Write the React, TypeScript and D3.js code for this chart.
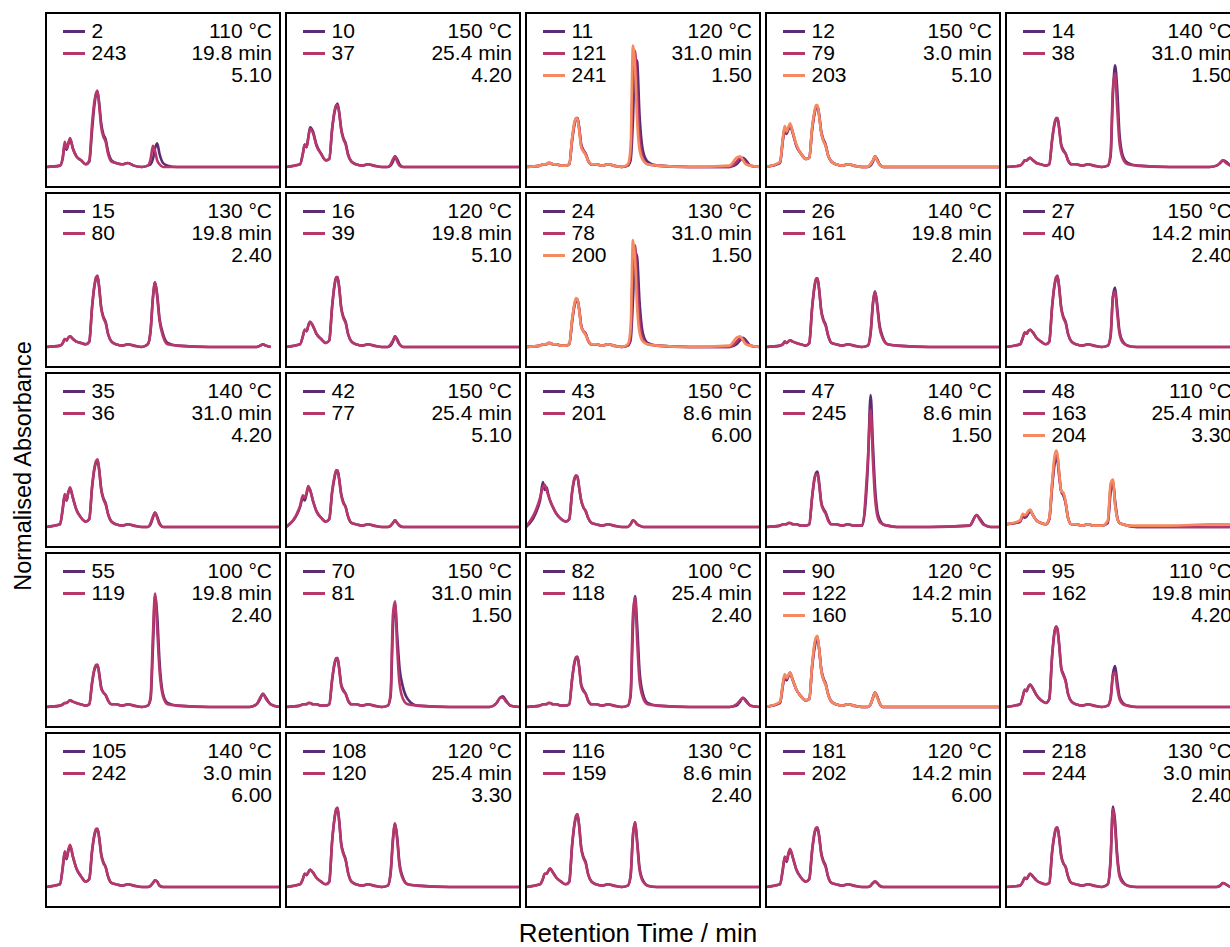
import * as d3 from 'd3';
import React from 'react';

// retention time grid (min), shared by every trace
const TIMES = [0, 0.6, 0.72, 0.8, 0.88, 0.95, 1.03, 1.15, 1.3, 1.5, 1.7,
  1.85, 1.97, 2.07, 2.14, 2.2, 2.27, 2.36, 2.45, 2.55, 2.65, 2.8,
  3.0, 3.25, 3.5, 3.75, 4.1, 4.35, 4.47, 4.57, 4.66, 4.75, 4.85,
  5.0, 5.2, 5.6, 7.0, 8.7, 9.0, 9.15, 9.27, 9.4, 9.6, 10];

const Z11 = [0, 0, 0, 0, 0, 0, 0, 0, 0, 0, 0];

// normalised absorbance of each run
const r2 = [0, .01, .07, .17, .13, .17, .21, .14, .08, .05, .02, .04, .28, .47, .55, .57, .49, .33, .25, .21, .12, .05, .03, .02, .03, .01, 0, .01, .02, .06, .14, .18, .1, .03, .01, 0, 0, 0, 0, 0, 0, 0, 0, 0];
const r243 = [0, .01, .08, .19, .14, .18, .22, .14, .08, .05, .02, .05, .33, .5, .56, .58, .47, .3, .23, .19, .1, .04, .03, .02, .03, .01, 0, .01, .06, .16, .12, .05, .02, ...Z11];
const r10 = [0, .02, .1, .17, .15, .22, .3, .27, .17, .1, .05, .06, .28, .41, .46, .48, .42, .29, .22, .18, .1, .04, .02, .01, .02, .01, 0, 0, .01, .04, .08, .06, .02, ...Z11];
const r37 = [0, .02, .1, .17, .15, .22, .29, .26, .16, .1, .05, .06, .29, .42, .47, .47, .41, .28, .21, .17, .09, .04, .02, .01, .02, .01, 0, 0, .02, .06, .08, .04, .01, ...Z11];
const r11 = [0, .01, .02, .02, .02, .03, .03, .02, .02, .01, .01, .02, .2, .32, .36, .37, .3, .17, .13, .1, .05, .02, .02, .01, .02, .01, 0, .01, .05, .35, .82, .8, .4, .12, .04, .01, 0, 0, .02, .05, .07, .05, .01, 0];
const r121 = [0, .01, .02, .02, .02, .03, .03, .02, .02, .01, .01, .02, .21, .33, .37, .37, .3, .16, .12, .1, .05, .02, .02, .01, .02, .01, 0, .01, .08, .7, .88, .55, .22, .07, .02, .01, 0, 0, .04, .07, .06, .03, .01, 0];
const r241 = [0, .01, .02, .02, .02, .03, .03, .02, .02, .01, .01, .02, .22, .34, .37, .36, .28, .15, .12, .09, .05, .02, .02, .01, .02, .01, 0, .02, .15, .92, .75, .35, .13, .05, .02, .01, 0, .01, .07, .08, .05, .02, .01, 0];
const r12 = [0, .03, .2, .28, .25, .28, .31, .25, .16, .1, .06, .07, .28, .4, .45, .46, .4, .27, .21, .17, .09, .04, .02, .01, .02, .01, 0, 0, .01, .04, .08, .06, .02, ...Z11];
const r79 = [0, .03, .21, .3, .26, .29, .32, .26, .16, .1, .06, .07, .29, .41, .46, .46, .39, .26, .2, .16, .09, .04, .02, .01, .02, .01, 0, 0, .02, .05, .08, .05, .02, ...Z11];
const r203 = [0, .04, .22, .31, .27, .3, .33, .26, .17, .1, .06, .07, .3, .42, .47, .47, .39, .26, .2, .16, .09, .04, .02, .01, .02, .01, 0, 0, .02, .05, .08, .05, .02, ...Z11];
const r14 = [0, .01, .03, .05, .05, .06, .07, .05, .03, .02, .01, .02, .2, .32, .36, .37, .3, .17, .13, .1, .05, .02, .02, .01, .02, .01, 0, .01, .08, .55, .77, .6, .25, .08, .03, .01, 0, 0, .01, .03, .05, .04, .01, 0];
const r38 = [0, .01, .03, .05, .05, .06, .07, .05, .03, .02, .01, .02, .21, .33, .37, .37, .29, .16, .12, .1, .05, .02, .02, .01, .02, .01, 0, .01, .1, .6, .71, .45, .18, .06, .02, .01, 0, 0, .01, .03, .05, .03, .01, 0];

const r15 = [0, .01, .03, .06, .05, .07, .08, .06, .04, .03, .02, .04, .3, .46, .52, .54, .46, .3, .23, .19, .1, .04, .02, .01, .02, .01, 0, .02, .12, .37, .49, .4, .22, .1, .03, .01, 0, 0, 0, .01, .02, .01, 0];
const r80 = [0, .01, .03, .06, .05, .07, .08, .06, .04, .03, .02, .04, .31, .47, .53, .54, .45, .29, .22, .18, .1, .04, .02, .01, .02, .01, 0, .02, .13, .38, .49, .38, .2, .08, .02, .01, 0, 0, 0, .01, .02, .01, 0];
const r16 = [0, .02, .08, .13, .12, .16, .19, .16, .1, .06, .03, .05, .3, .46, .52, .53, .46, .3, .23, .19, .1, .04, .02, .01, .02, .01, 0, 0, .01, .04, .08, .06, .02, ...Z11];
const r39 = [0, .02, .08, .13, .12, .16, .19, .16, .1, .06, .03, .05, .31, .47, .53, .53, .45, .29, .22, .18, .1, .04, .02, .01, .02, .01, 0, 0, .02, .05, .08, .05, .02, ...Z11];
const r24 = [0, .01, .02, .02, .02, .03, .03, .02, .02, .01, .01, .02, .19, .31, .35, .36, .29, .16, .12, .1, .05, .02, .02, .01, .02, .01, 0, .01, .05, .35, .72, .68, .35, .1, .03, .01, 0, 0, .02, .05, .07, .05, .01, 0];
const r78 = [0, .01, .02, .02, .02, .03, .03, .02, .02, .01, .01, .02, .2, .32, .36, .36, .29, .16, .12, .1, .05, .02, .02, .01, .02, .01, 0, .01, .08, .62, .77, .48, .2, .06, .02, .01, 0, 0, .04, .07, .06, .03, .01, 0];
const r200 = [0, .01, .02, .02, .02, .03, .03, .02, .02, .01, .01, .02, .21, .33, .37, .36, .28, .15, .12, .09, .05, .02, .02, .01, .02, .01, 0, .02, .14, .81, .66, .3, .11, .04, .02, .01, 0, .01, .07, .08, .05, .02, .01, 0];
const r26 = [0, .01, .02, .04, .03, .04, .05, .04, .03, .02, .01, .03, .29, .45, .51, .52, .44, .28, .21, .17, .09, .03, .02, .01, .02, .01, 0, .01, .1, .32, .42, .33, .17, .07, .02, .01, 0, 0, 0, 0, 0, 0, 0, 0];
const r161 = [0, .01, .02, .04, .03, .04, .05, .04, .03, .02, .01, .03, .3, .46, .52, .52, .43, .27, .2, .16, .09, .03, .02, .01, .02, .01, 0, .01, .11, .34, .42, .31, .15, .06, .02, .01, 0, 0, 0, 0, 0, 0, 0, 0];
const r27 = [0, .02, .07, .11, .1, .12, .13, .11, .07, .04, .02, .04, .3, .46, .52, .54, .46, .3, .23, .19, .1, .04, .02, .01, .02, .01, 0, .01, .08, .38, .45, .3, .12, .04, .01, ...[0, 0, 0, 0, 0, 0, 0, 0, 0]];
const r40 = [0, .02, .07, .11, .1, .12, .13, .11, .07, .04, .02, .04, .31, .47, .53, .54, .45, .29, .22, .18, .1, .04, .02, .01, .02, .01, 0, .01, .09, .38, .42, .26, .1, .03, .01, ...[0, 0, 0, 0, 0, 0, 0, 0, 0]];

const r35 = [0, .02, .14, .24, .2, .26, .29, .22, .13, .07, .04, .06, .3, .44, .49, .51, .44, .29, .22, .18, .1, .04, .02, .01, .02, .01, 0, 0, .02, .07, .11, .08, .03, ...Z11];
const r36 = [0, .02, .15, .25, .2, .26, .3, .22, .13, .07, .04, .06, .31, .45, .5, .51, .43, .28, .21, .17, .1, .04, .02, .01, .02, .01, 0, 0, .03, .08, .11, .07, .02, ...Z11];
const r42 = [0, .15, .22, .2, .25, .3, .28, .2, .12, .07, .04, .06, .26, .37, .42, .43, .37, .25, .19, .15, .08, .03, .02, .01, .02, .01, 0, 0, .01, .03, .05, .03, .01, ...Z11];
const r77 = [0, .16, .24, .22, .26, .31, .28, .2, .12, .07, .04, .06, .27, .38, .43, .43, .36, .24, .18, .15, .08, .03, .02, .01, .02, .01, 0, 0, .01, .03, .05, .03, .01, ...Z11];
const r43 = [0, .2, .34, .28, .3, .25, .2, .15, .1, .06, .04, .06, .26, .36, .39, .38, .3, .2, .15, .12, .07, .03, .02, .01, .02, .01, 0, 0, .02, .05, .04, .02, .01, ...Z11];
const r201 = [0, .22, .3, .32, .28, .24, .2, .15, .1, .06, .04, .06, .27, .37, .39, .38, .3, .2, .15, .12, .07, .03, .02, .01, .02, .01, 0, 0, .02, .05, .04, .02, .01, ...Z11];
const r47 = [0, .01, .02, .02, .02, .03, .03, .02, .02, .01, .01, .02, .22, .36, .41, .42, .34, .19, .14, .11, .06, .02, .02, .01, .02, .01, .01, .45, 1.0, .62, .3, .13, .06, .02, .01, 0, 0, .01, .09, .06, .03, .01, 0, 0];
const r245 = [0, .01, .02, .02, .02, .03, .03, .02, .02, .01, .01, .02, .23, .37, .4, .4, .32, .18, .13, .1, .05, .02, .02, .01, .02, .01, .01, .5, .89, .5, .22, .09, .04, .02, .01, 0, 0, .01, .09, .05, .02, .01, 0, 0];
const r48 = [.02, .04, .08, .07, .08, .1, .12, .09, .05, .03, .02, .06, .3, .47, .52, .5, .39, .27, .24, .18, .07, .02, .02, .01, .02, .01, .01, .03, .26, .34, .2, .08, .03, .02, .01, ...[0, 0, 0, 0, 0, 0, 0, 0, 0]];
const r163 = [.02, .04, .09, .08, .09, .11, .13, .09, .05, .03, .02, .06, .32, .5, .55, .53, .41, .27, .25, .18, .07, .02, .02, .01, .02, .01, .01, .04, .3, .35, .18, .07, .03, .02, .01, ...[0, 0, 0, 0, 0, 0, 0, 0, 0]];
const r204 = [.02, .05, .1, .09, .1, .12, .13, .09, .05, .03, .02, .07, .34, .53, .58, .55, .42, .27, .26, .19, .07, .02, .02, .01, .02, .01, .01, .05, .33, .36, .17, .07, .03, .02, .01, ...[.01, .01, .02, .02, .02, .02, .02, .02, .02]];

const r55 = [0, .01, .02, .03, .03, .04, .05, .04, .03, .02, .01, .02, .18, .28, .31, .32, .26, .15, .11, .09, .05, .02, .02, .01, .02, .01, 0, .01, .06, .45, .84, .7, .35, .1, .03, .01, 0, 0, .02, .06, .1, .07, .02, 0];
const r119 = [0, .01, .02, .03, .03, .04, .05, .04, .03, .02, .01, .02, .19, .29, .32, .32, .25, .14, .11, .09, .05, .02, .02, .01, .02, .01, 0, .01, .08, .55, .86, .6, .28, .08, .02, .01, 0, 0, .02, .07, .1, .06, .02, 0];
const r70 = [0, .01, .02, .02, .02, .03, .03, .02, .02, .01, .01, .02, .2, .32, .36, .37, .3, .17, .13, .1, .05, .02, .02, .01, .02, .01, 0, .01, .08, .6, .78, .55, .3, .15, .06, .01, 0, 0, .03, .07, .08, .05, .01, 0];
const r81 = [0, .01, .02, .02, .02, .03, .03, .02, .02, .01, .01, .02, .21, .33, .37, .37, .29, .16, .12, .1, .05, .02, .02, .01, .02, .01, 0, .01, .1, .7, .8, .45, .18, .06, .02, .01, 0, 0, .03, .07, .07, .04, .01, 0];
const r82 = [0, .01, .02, .02, .02, .03, .03, .02, .02, .01, .01, .02, .21, .33, .37, .38, .31, .17, .13, .1, .05, .02, .02, .01, .02, .01, 0, .01, .08, .6, .84, .62, .28, .1, .03, .01, 0, 0, .01, .04, .07, .05, .01, 0];
const r118 = [0, .01, .02, .02, .02, .03, .03, .02, .02, .01, .01, .02, .21, .34, .38, .38, .3, .16, .12, .1, .05, .02, .02, .01, .02, .01, 0, .01, .1, .7, .83, .5, .2, .07, .02, .01, 0, 0, .02, .05, .07, .04, .01, 0];
const r90 = [0, .03, .16, .23, .2, .23, .25, .2, .13, .08, .05, .06, .3, .44, .5, .51, .44, .29, .22, .18, .1, .04, .02, .01, .02, .01, 0, 0, .02, .07, .11, .08, .03, ...Z11];
const r122 = [0, .03, .17, .24, .21, .24, .26, .2, .13, .08, .05, .06, .31, .46, .52, .53, .44, .28, .21, .17, .1, .04, .02, .01, .02, .01, 0, 0, .02, .07, .11, .08, .03, ...Z11];
const r160 = [0, .04, .18, .25, .22, .24, .26, .2, .13, .08, .05, .06, .32, .48, .53, .54, .44, .28, .21, .17, .1, .04, .02, .01, .02, .01, 0, 0, .02, .07, .11, .07, .03, ...Z11];
const r95 = [0, .02, .08, .13, .12, .15, .17, .14, .09, .05, .03, .06, .38, .56, .61, .59, .48, .3, .25, .2, .1, .04, .02, .01, .02, .01, 0, .01, .06, .25, .31, .2, .08, .03, .01, ...[0, 0, 0, 0, 0, 0, 0, 0, 0]];
const r162 = [0, .02, .08, .13, .12, .15, .17, .14, .09, .05, .03, .06, .39, .57, .61, .58, .47, .29, .24, .19, .1, .04, .02, .01, .02, .01, 0, .01, .07, .24, .26, .15, .06, .02, .01, ...[0, 0, 0, 0, 0, 0, 0, 0, 0]];

const r105 = [0, .02, .15, .26, .21, .27, .31, .23, .14, .08, .04, .06, .27, .39, .43, .44, .38, .25, .19, .15, .08, .03, .02, .01, .02, .01, 0, 0, .01, .03, .05, .04, .01, ...Z11];
const r242 = [0, .02, .16, .27, .22, .28, .32, .23, .14, .08, .04, .06, .28, .4, .44, .44, .37, .24, .18, .15, .08, .03, .02, .01, .02, .01, 0, 0, .01, .03, .05, .04, .01, ...Z11];
const r108 = [0, .02, .06, .1, .09, .11, .13, .11, .07, .04, .02, .04, .34, .51, .58, .6, .51, .33, .26, .21, .11, .04, .02, .01, .02, .01, 0, .01, .1, .35, .48, .38, .18, .07, .02, .01, 0, 0, 0, 0, 0, 0, 0, 0];
const r120 = [0, .02, .06, .1, .09, .11, .13, .11, .07, .04, .02, .04, .35, .52, .59, .6, .5, .32, .25, .2, .11, .04, .02, .01, .02, .01, 0, .01, .11, .37, .48, .36, .16, .06, .02, .01, 0, 0, 0, 0, 0, 0, 0, 0];
const r116 = [0, .02, .06, .1, .1, .12, .14, .11, .07, .04, .02, .04, .31, .47, .53, .55, .47, .3, .23, .19, .1, .04, .02, .01, .02, .01, 0, .01, .08, .38, .49, .35, .15, .05, .01, ...[0, 0, 0, 0, 0, 0, 0, 0, 0]];
const r159 = [0, .02, .06, .1, .1, .12, .14, .11, .07, .04, .02, .04, .32, .48, .54, .55, .46, .29, .22, .18, .1, .04, .02, .01, .02, .01, 0, .01, .09, .4, .49, .33, .13, .04, .01, ...[0, 0, 0, 0, 0, 0, 0, 0, 0]];
const r181 = [0, .02, .13, .22, .19, .24, .28, .22, .13, .07, .04, .06, .27, .4, .44, .45, .39, .26, .2, .16, .08, .03, .02, .01, .02, .01, 0, 0, .01, .03, .04, .03, .01, ...Z11];
const r202 = [0, .02, .14, .23, .2, .25, .29, .22, .13, .07, .04, .06, .28, .41, .45, .45, .38, .25, .19, .15, .08, .03, .02, .01, .02, .01, 0, 0, .01, .03, .04, .03, .01, ...Z11];
const r218 = [0, .01, .04, .07, .06, .08, .1, .08, .05, .03, .02, .03, .26, .39, .44, .45, .38, .24, .18, .15, .08, .03, .02, .01, .02, .01, 0, .02, .2, .61, .5, .25, .1, .04, .01, 0, 0, 0, 0, .01, .03, .02, 0, 0];
const r244 = [0, .01, .04, .07, .06, .08, .1, .08, .05, .03, .02, .03, .27, .4, .45, .45, .37, .23, .18, .15, .08, .03, .02, .01, .02, .01, 0, .02, .22, .59, .45, .22, .08, .03, .01, 0, 0, 0, 0, .01, .03, .02, 0, 0];

const RUN_TRACES: Record<number, number[]> = {
  2: r2, 243: r243, 10: r10, 37: r37, 11: r11, 121: r121, 241: r241, 12: r12, 79: r79, 203: r203, 14: r14, 38: r38,
  15: r15, 80: r80, 16: r16, 39: r39, 24: r24, 78: r78, 200: r200, 26: r26, 161: r161, 27: r27, 40: r40,
  35: r35, 36: r36, 42: r42, 77: r77, 43: r43, 201: r201, 47: r47, 245: r245, 48: r48, 163: r163, 204: r204,
  55: r55, 119: r119, 70: r70, 81: r81, 82: r82, 118: r118, 90: r90, 122: r122, 160: r160, 95: r95, 162: r162,
  105: r105, 242: r242, 108: r108, 120: r120, 116: r116, 159: r159, 181: r181, 202: r202, 218: r218, 244: r244,
};

// panels, row by row
const PANEL_RUNS = [
  [2, 243], [10, 37], [11, 121, 241], [12, 79, 203], [14, 38],
  [15, 80], [16, 39], [24, 78, 200], [26, 161], [27, 40],
  [35, 36], [42, 77], [43, 201], [47, 245], [48, 163, 204],
  [55, 119], [70, 81], [82, 118], [90, 122, 160], [95, 162],
  [105, 242], [108, 120], [116, 159], [181, 202], [218, 244],
];
const TEMPS = [110, 150, 120, 150, 140, 130, 120, 130, 140, 150, 140, 150, 150, 140, 110, 100, 150, 100, 120, 110, 140, 120, 130, 120, 130];
const DURATIONS = ['19.8', '25.4', '31.0', '3.0', '31.0', '19.8', '19.8', '31.0', '19.8', '14.2', '31.0', '25.4', '8.6', '8.6', '25.4',
  '19.8', '31.0', '25.4', '14.2', '19.8', '3.0', '25.4', '8.6', '14.2', '3.0'];
const RATIOS = ['5.10', '4.20', '1.50', '5.10', '1.50', '2.40', '5.10', '1.50', '2.40', '2.40', '4.20', '5.10', '6.00', '1.50', '3.30',
  '2.40', '1.50', '2.40', '5.10', '4.20', '6.00', '3.30', '2.40', '6.00', '2.40'];

const COLORS = ['#5d2a74', '#b8376b', '#f5895f'];
const FONT = '"Liberation Sans", Arial, Helvetica, sans-serif';

const W = 1230;
const H = 947;
const PANEL_W = 234;
const PANEL_H = 174;
const LEFT = 46;
const TOP = 13;
const STEP_X = 240;
const STEP_Y = 180;

export default function App() {
  const x = d3.scaleLinear().domain([0, 10]).range([0, PANEL_W]);
  const y = d3.scaleLinear().domain([-0.152, 1.167]).range([PANEL_H, 0]);
  const line = d3.line<number>()
    .x((_, i) => x(TIMES[i]))
    .y(d => y(d))
    .curve(d3.curveMonotoneX);

  return (
    <svg width={W} height={H} style={{ position: 'absolute', left: 0, top: 0, background: '#fff' }}
      fontFamily={FONT}>
      <defs>
        <clipPath id="panel-clip">
          <rect x={0} y={0} width={PANEL_W} height={PANEL_H} />
        </clipPath>
      </defs>
      {PANEL_RUNS.map((runs, p) => {
        const px = LEFT + (p % 5) * STEP_X;
        const py = TOP + Math.floor(p / 5) * STEP_Y;
        return (
          <g key={p} transform={`translate(${px},${py})`}>
            <g clipPath="url(#panel-clip)">
              {runs.map((run, k) => (
                <path key={run} d={line(RUN_TRACES[run]) || ''} fill="none"
                  stroke={COLORS[k]} strokeWidth={2.6} strokeLinejoin="round" />
              ))}
            </g>
            {runs.map((run, k) => (
              <g key={'l' + run}>
                <line x1={17} x2={39} y1={25 + k * 22 - 6.5} y2={25 + k * 22 - 6.5}
                  stroke={COLORS[k]} strokeWidth={3} />
                <text x={45.5} y={25 + k * 22} fontSize={21} fill="#000">{run}</text>
              </g>
            ))}
            <text x={226} y={25} fontSize={21} textAnchor="end">{TEMPS[p]} °C</text>
            <text x={226} y={47} fontSize={21} textAnchor="end">{DURATIONS[p]} min</text>
            <text x={226} y={69} fontSize={21} textAnchor="end">{RATIOS[p]}</text>
            <rect x={0} y={0} width={PANEL_W} height={PANEL_H} fill="none" stroke="#000" strokeWidth={2} />
          </g>
        );
      })}
      <text x={638} y={942} fontSize={26} textAnchor="middle">Retention Time / min</text>
      <text transform="translate(31,466) rotate(-90)" fontSize={23.5} textAnchor="middle">Normalised Absorbance</text>
    </svg>
  );
}
